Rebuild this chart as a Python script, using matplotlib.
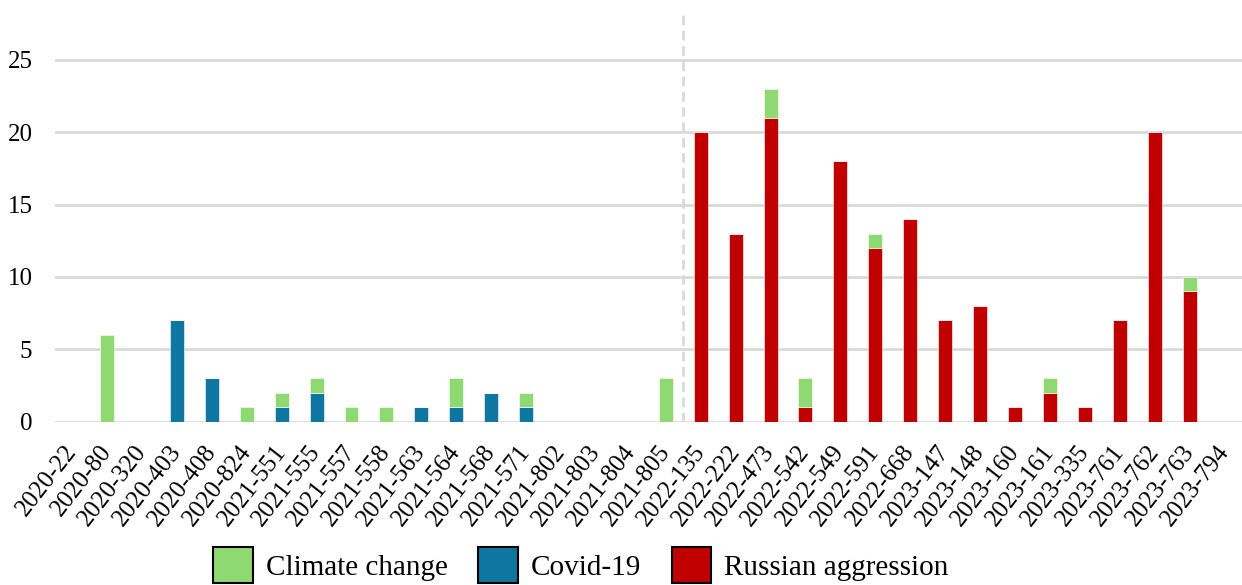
import matplotlib
matplotlib.use('Agg')
import matplotlib.pyplot as plt
from matplotlib.patches import Patch
import numpy as np

plt.rcParams['font.family'] = ['Liberation Serif', 'DejaVu Serif']

# decisions on the x axis
cases = ['2020-22', '2020-80', '2020-320', '2020-403', '2020-408', '2020-824',
         '2021-551', '2021-555', '2021-557', '2021-558', '2021-563', '2021-564',
         '2021-568', '2021-571', '2021-802', '2021-803', '2021-804', '2021-805',
         '2022-135', '2022-222', '2022-473', '2022-542', '2022-549', '2022-591',
         '2022-668', '2023-147', '2023-148', '2023-160', '2023-161', '2023-335',
         '2023-761', '2023-762', '2023-763', '2023-794']

covid = [0, 0, 0, 7, 3, 0, 1, 2, 0, 0, 1, 1, 2, 1, 0, 0, 0, 0,
         0, 0, 0, 0, 0, 0, 0, 0, 0, 0, 0, 0, 0, 0, 0, 0]
russia = [0, 0, 0, 0, 0, 0, 0, 0, 0, 0, 0, 0, 0, 0, 0, 0, 0, 0,
          20, 13, 21, 1, 18, 12, 14, 7, 8, 1, 2, 1, 7, 20, 9, 0]
climate = [0, 6, 0, 0, 0, 1, 1, 1, 1, 1, 0, 2, 0, 1, 0, 0, 0, 3,
           0, 0, 2, 2, 0, 1, 0, 0, 0, 0, 1, 0, 0, 0, 1, 0]

green = '#8fd973'
blue = '#0e76a0'
red = '#c00000'
grid_col = '#d9d9d9'

x = np.arange(len(cases))
covid = np.array(covid)
russia = np.array(russia)
climate = np.array(climate)

fig = plt.figure(figsize=(12.42, 5.85), dpi=100)
ax = fig.add_axes([0.044, 0.279, 0.956, 0.703])

w = 0.4
ax.bar(x, covid, w, color=blue, edgecolor='#ffffff', linewidth=0.4, zorder=3)
ax.bar(x, russia, w, bottom=covid, color=red, edgecolor='#ffffff', linewidth=0.4, zorder=3)
ax.bar(x, climate, w, bottom=covid + russia, color=green, edgecolor='#ffffff', linewidth=0.4, zorder=3)

# split between the pre-2022 and 2022+ decisions
ax.axvline(17.5, color=grid_col, linestyle=(0, (3.5, 2)), linewidth=2, zorder=2)

ax.set_xlim(-0.5, len(cases) - 0.5)
ax.set_ylim(0, 28.4)
ax.set_yticks(np.arange(0, 26, 5))
ax.yaxis.grid(True, color=grid_col, linewidth=2, zorder=0)
ax.set_axisbelow(True)
for s in ax.spines.values():
    s.set_visible(False)

ax.set_xticks(x)
ax.set_xticklabels(cases, rotation=52, ha='right', va='center', rotation_mode='anchor')
ax.tick_params(axis='x', length=0, pad=19, labelsize=18)
ax.tick_params(axis='y', length=0, pad=16, labelsize=18)

handles = [Patch(facecolor=green, edgecolor='black', linewidth=1.5),
           Patch(facecolor=blue, edgecolor='black', linewidth=1.5),
           Patch(facecolor=red, edgecolor='black', linewidth=1.5)]
fig.legend(handles, ['Climate change', 'Covid-19', 'Russian aggression'],
           loc='center', bbox_to_anchor=(581 / 1242, 0.034), ncol=3,
           frameon=False, fontsize=21, handlelength=1.35, handleheight=1.5,
           handletextpad=0.45, columnspacing=1.05)

fig.savefig('out.png', dpi=100)
